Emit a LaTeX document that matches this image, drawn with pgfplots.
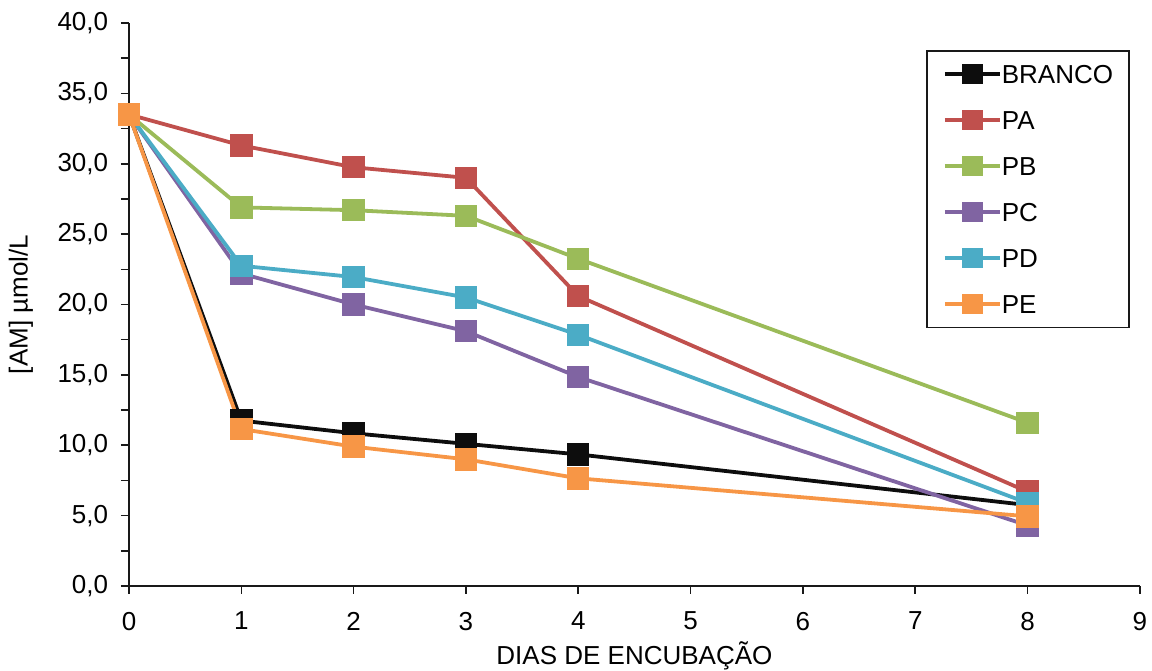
\documentclass[border=0pt]{standalone}
\usepackage{fontspec}
\setmainfont{Liberation Sans}
\usepackage{pgfplots}
\pgfplotsset{compat=1.18}
\definecolor{cBR}{HTML}{0D0D0D}
\definecolor{cPA}{HTML}{C0504D}
\definecolor{cPB}{HTML}{9BBB59}
\definecolor{cPC}{HTML}{8064A2}
\definecolor{cPD}{HTML}{4BACC6}
\definecolor{cPE}{HTML}{F79646}
\begin{document}
\fontsize{26}{30}\selectfont
\begin{tikzpicture}
\begin{axis}[
  scale only axis, width=1011pt, height=563pt,
  xmin=0, xmax=9, ymin=0, ymax=40,
  axis x line=bottom, axis y line=left,
  axis line style={-, line width=1.6pt, black!90},
  xtick={0,1,...,9}, ytick={0,5,...,40}, minor y tick num=1,
  tick align=outside, major tick length=8pt, minor tick length=8pt,
  tick style={line width=1.6pt, black!90},
  /pgf/number format/assume math mode=true,
  tick label style={font=\fontsize{26}{30}\selectfont},
  yticklabel style={xshift=-4pt, /pgf/number format/.cd, fixed, fixed zerofill, precision=1, use comma},
  xticklabel style={yshift=-9pt, /pgf/number format/.cd, fixed, precision=0},
  label style={font=\fontsize{26}{30}\selectfont},
  xlabel={DIAS DE ENCUBAÇÃO},
  ylabel={[AM] µmol/L},
  xlabel style={at={(rel axis cs:0.5,0)}, anchor=base, yshift=-79pt},
  ylabel style={at={(rel axis cs:0,0.5)}, anchor=center, yshift=108pt},
  every axis plot/.append style={line width=3.8pt, mark=square*, mark size=9.3pt, mark options={solid}},
  legend style={at={(rel axis cs:0.9901,0.952)}, anchor=north east, draw=black!90, line width=1.6pt,
    font=\fontsize{26}{30}\selectfont, row sep=27.4pt, inner xsep=16pt, inner ysep=14pt,
    nodes={inner sep=0pt, text height=18.6pt, text depth=0pt},
    cells={anchor=west}},
  legend image code/.code={\draw[mark repeat=2, mark phase=2, mark size=8.3pt] plot coordinates {(0pt,0pt) (27.5pt,0pt) (55pt,0pt)};},
  legend cell align=left,
]
\addplot[color=cBR] coordinates {(0,33.5) (1,11.75) (2,10.85) (3,10.1) (4,9.35) (8,5.75)};
\addlegendentry{BRANCO}
\addplot[color=cPA] coordinates {(0,33.5) (1,31.3) (2,29.75) (3,29.0) (4,20.6) (8,6.7)};
\addlegendentry{PA}
\addplot[color=cPB] coordinates {(0,33.5) (1,26.9) (2,26.7) (3,26.3) (4,23.25) (8,11.6)};
\addlegendentry{PB}
\addplot[color=cPC] coordinates {(0,33.5) (1,22.2) (2,20.0) (3,18.1) (4,14.85) (8,4.3)};
\addlegendentry{PC}
\addplot[color=cPD] coordinates {(0,33.5) (1,22.75) (2,21.95) (3,20.5) (4,17.85) (8,5.9)};
\addlegendentry{PD}
\addplot[color=cPE] coordinates {(0,33.5) (1,11.15) (2,9.9) (3,9.0) (4,7.65) (8,4.95)};
\addlegendentry{PE}
\end{axis}
\pgfresetboundingbox
\path (current axis.south west) ++(-129pt,-85pt) rectangle ++(1152pt,671pt);
\end{tikzpicture}
\end{document}
